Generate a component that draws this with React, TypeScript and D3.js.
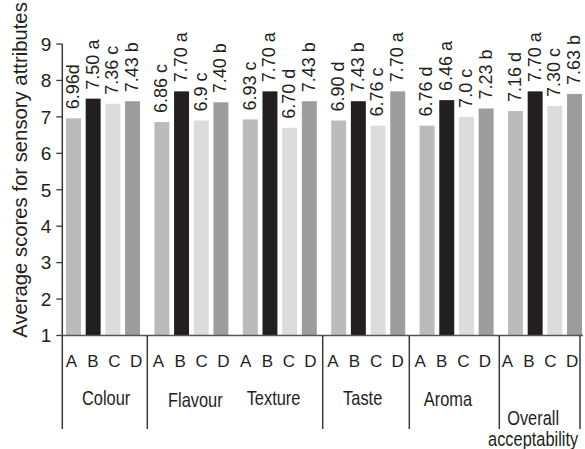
import React from 'react';
import * as d3 from 'd3';

const attributes = ['Colour', 'Flavour', 'Texture', 'Taste', 'Aroma', 'Overall acceptability'];
const samples = ['A', 'B', 'C', 'D'];

const colourScores = [6.96, 7.5, 7.36, 7.43];
const flavourScores = [6.86, 7.7, 6.9, 7.4];
const textureScores = [6.93, 7.7, 6.7, 7.43];
const tasteScores = [6.9, 7.43, 6.76, 7.7];
const aromaScores = [6.76, 7.46, 7.0, 7.23];
const overallScores = [7.16, 7.7, 7.3, 7.63];

const colourLabels = ['6.96d', '7.50 a', '7.36 c', '7.43 b'];
const flavourLabels = ['6.86 c', '7.70 a', '6.9 c', '7.40 b'];
const textureLabels = ['6.93 c', '7.70 a', '6.70 d', '7.43 b'];
const tasteLabels = ['6.90 d', '7.43 b', '6.76 c', '7.70 a'];
const aromaLabels = ['6.76 d', '6.46 a', '7.0 c', '7.23 b'];
const overallLabels = ['7.16 d', '7.70 a', '7.30 c', '7.63 b'];

const yTicks = [1, 2, 3, 4, 5, 6, 7, 8, 9];
const yTitle = 'Average scores for sensory attributes';

// groups that are closed by a separator line on their right
const separatedAfter = ['Colour', 'Texture', 'Taste', 'Aroma', 'Overall acceptability'];

const scores = [colourScores, flavourScores, textureScores, tasteScores, aromaScores, overallScores];
const labels = [colourLabels, flavourLabels, textureLabels, tasteLabels, aromaLabels, overallLabels];

const sampleColors: Record<string, string> = {
  A: '#bbbbbb',
  B: '#231f20',
  C: '#dcdcdc',
  D: '#9d9d9d',
};

// layout tweaks for the attribute names (dx, baseline y) and separators
const nameDx = [2, 4, -5, -3, -5, -7];
const nameY = [405, 407, 405, 405, 406, 425];
const sepDx = [-0.4, 0.6, 0, 2.8, -3.7];

const W = 585;
const H = 449;
const FONT = '"Liberation Sans", Arial, Helvetica, sans-serif';

export default function App() {
  const y = d3.scaleLinear().domain([1, 9]).range([335.5, 44]);

  const x0 = d3.scaleBand<string>().domain(attributes).range([66, 66 + 6 * 88.4]).padding(0);
  const x1 = d3.scaleBand<string>().domain(samples).range([0, 74]).paddingInner(0.24).paddingOuter(0);

  const lx0 = d3.scaleBand<string>().domain(attributes).range([60.5, 60.5 + 6 * 87.2]).padding(0);
  const lx1 = d3.scaleBand<string>().domain(samples).range([0, lx0.bandwidth() - 0.8]).padding(0);

  const axisX = 62.3;
  const base = y(1);
  const sepBottom = 429;

  return (
    <svg
      width={W}
      height={H}
      viewBox={`0 0 ${W} ${H}`}
      style={{ position: 'absolute', left: 0, top: 0, background: '#fff' }}
      fontFamily={FONT}
    >
      <rect x={0} y={0} width={W} height={H} fill="#fff" />
      {/* bars */}
      {attributes.map((g, gi) =>
        samples.map((s, si) => {
          const v = scores[gi][si];
          const bx = (x0(g) as number) + (x1(s) as number);
          return (
            <rect
              key={`${g}-${s}`}
              x={bx}
              y={y(v)}
              width={x1.bandwidth()}
              height={base - y(v)}
              fill={sampleColors[s]}
            />
          );
        })
      )}
      {/* value labels */}
      {attributes.map((g, gi) =>
        samples.map((s, si) => {
          const v = scores[gi][si];
          const cx = (x0(g) as number) + (x1(s) as number) + x1.bandwidth() / 2;
          const ty = y(v) - 9;
          return (
            <text
              key={`l-${g}-${s}`}
              transform={`translate(${cx},${ty}) rotate(-90)`}
              dy="0.3em"
              fontSize={18}
              fill="#231f20"
              textAnchor="start"
            >
              {labels[gi][si]}
            </text>
          );
        })
      )}
      {/* y axis */}
      <line x1={axisX} x2={axisX} y1={y(9)} y2={sepBottom} stroke="#3a3a3a" strokeWidth={1.5} />
      {yTicks.map((t) => (
        <g key={`t-${t}`}>
          <line x1={axisX - 6} x2={axisX} y1={y(t)} y2={y(t)} stroke="#3a3a3a" strokeWidth={1.3} />
          <text x={axisX - 11} y={y(t)} dy="0.36em" textAnchor="end" fontSize={19} fill="#231f20">
            {t}
          </text>
        </g>
      ))}
      <text
        transform={`translate(27,170) rotate(-90)`}
        textAnchor="middle"
        fontSize={20.3}
        fill="#231f20"
      >
        {yTitle}
      </text>
      {/* x axis */}
      <line x1={axisX} x2={583} y1={base} y2={base} stroke="#555" strokeWidth={1.5} />
      {/* separators */}
      {separatedAfter.map((g, i) => {
        const sx = (lx0(g) as number) + lx0.step() + sepDx[i];
        return <line key={`s-${g}`} x1={sx} x2={sx} y1={base} y2={sepBottom} stroke="#3a3a3a" strokeWidth={1.5} />;
      })}
      {/* sample letters */}
      {attributes.map((g) =>
        samples.map((s) => {
          const cx = (lx0(g) as number) + (lx1(s) as number) + lx1.bandwidth() / 2;
          return (
            <text key={`sl-${g}-${s}`} x={cx} y={366.5} textAnchor="middle" fontSize={17} fill="#231f20">
              {s}
            </text>
          );
        })
      )}
      {/* attribute names */}
      {attributes.map((g, gi) => {
        const cx = (lx0(g) as number) + lx0.bandwidth() / 2 + nameDx[gi];
        const multi = g === 'Overall acceptability';
        const words = multi ? ['Overall', 'acceptability'] : [g];
        const fs = multi ? 19.5 : 20.5;
        const sx = multi ? 0.84 : 0.8;
        return words.map((w, wi) => (
          <text
            key={`n-${g}-${wi}`}
            transform={`translate(${cx},${nameY[gi] + wi * 21}) scale(${sx},1)`}
            textAnchor="middle"
            fontSize={fs}
            fill="#231f20"
          >
            {w}
          </text>
        ));
      })}
    </svg>
  );
}
